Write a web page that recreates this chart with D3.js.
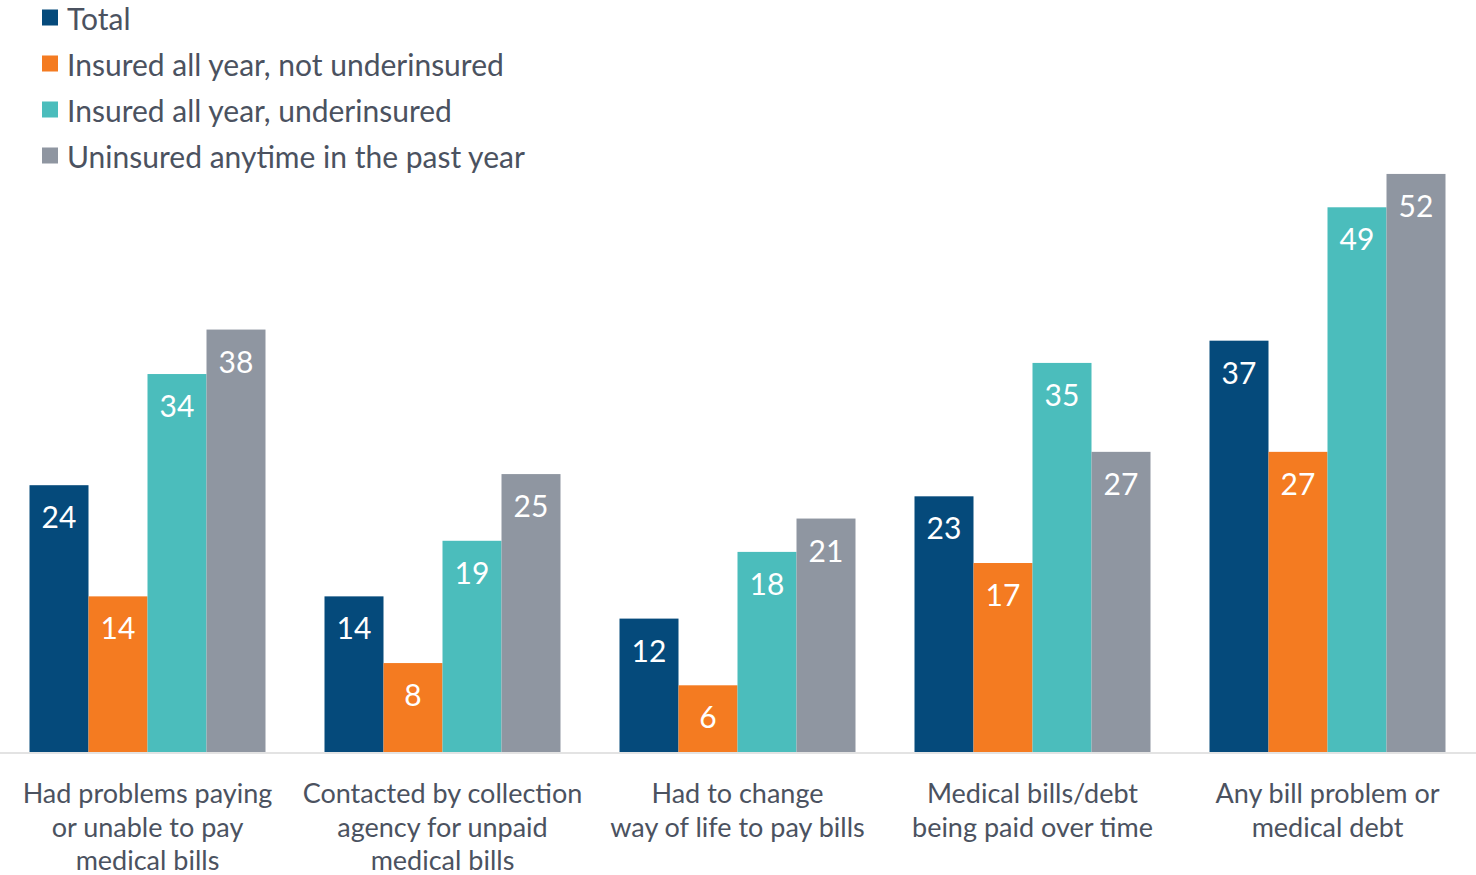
<!DOCTYPE html>
<html><head><meta charset="utf-8">
<script src="https://cdn.jsdelivr.net/npm/d3@7"></script>
<style>body{margin:0;background:#fff}svg{display:block}</style>
</head><body>
<script>
const categories = [
  ["Had problems paying","or unable to pay","medical bills"],
  ["Contacted by collection","agency for unpaid","medical bills"],
  ["Had to change","way of life to pay bills"],
  ["Medical bills/debt","being paid over time"],
  ["Any bill problem or","medical debt"]
];
const seriesNames = ["Total","Insured all year, not underinsured","Insured all year, underinsured","Uninsured anytime in the past year"];
const seriesColors = ["#054a7b","#f47b21","#4bbdbc","#8f96a1"];
const total = [24,14,12,23,37];
const insuredNotUnder = [14,8,6,17,27];
const insuredUnder = [34,19,18,35,49];
const uninsured = [38,25,21,27,52];
const seriesValues = [total, insuredNotUnder, insuredUnder, uninsured];

const W=1476,H=875, baseY=752;
const svg=d3.select("body").append("svg").attr("width",W).attr("height",H);
const font="Lato, 'Noto Sans', sans-serif";
const textColor="#4b5260";

const x0=d3.scaleBand().domain(d3.range(categories.length)).range([0,1475]).paddingInner(0.2).paddingOuter(0.1);
const x1=d3.scaleBand().domain(d3.range(seriesNames.length)).range([0,x0.bandwidth()]);
const y=d3.scaleLinear().domain([0,60]).range([baseY, baseY-667]);

svg.append("line").attr("x1",0).attr("x2",W).attr("y1",baseY+1).attr("y2",baseY+1)
  .attr("stroke","#e3e3e3").attr("stroke-width",2);

const g=svg.append("g");
categories.forEach((c,i)=>{
  const gg=g.append("g").attr("transform",`translate(${x0(i)},0)`);
  seriesValues.forEach((vals,s)=>{
    const v=vals[i];
    gg.append("rect").attr("x",x1(s)).attr("y",y(v)).attr("width",x1.bandwidth()).attr("height",baseY-y(v))
      .attr("fill",seriesColors[s]);
    gg.append("text").attr("x",x1(s)+x1.bandwidth()/2).attr("y",y(v)+43)
      .attr("text-anchor","middle").attr("fill","#fff").attr("font-family",font).attr("font-size",30)
      .text(v);
  });
  const t=svg.append("text").attr("text-anchor","middle").attr("fill",textColor)
    .attr("font-family",font).attr("font-size",27);
  c.forEach((line,k)=>{
    t.append("tspan").attr("x",x0(i)+x0.bandwidth()/2).attr("y",803+k*33.5).text(line);
  });
});

const leg=svg.append("g");
seriesNames.forEach((n,s)=>{
  const by=29.5+s*46;
  leg.append("rect").attr("x",42).attr("y",by-20).attr("width",16).attr("height",16).attr("fill",seriesColors[s]);
  leg.append("text").attr("x",67).attr("y",by).attr("fill",textColor).attr("font-family",font).attr("font-size",30).text(n);
});
</script>
</body></html>
